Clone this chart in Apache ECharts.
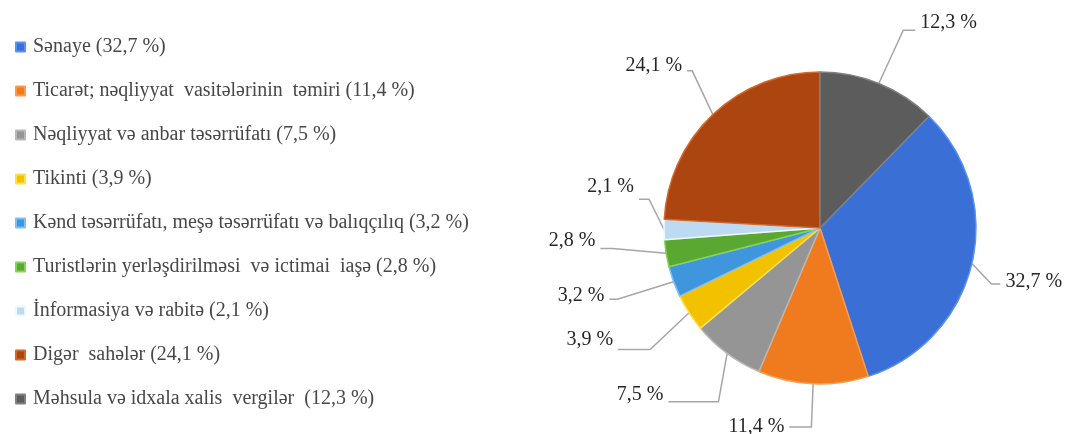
<!DOCTYPE html>
<html>
<head>
<meta charset="utf-8">
<script src="https://cdn.jsdelivr.net/npm/echarts@6/dist/echarts.min.js"></script>
<style>
    html, body { margin: 0; padding: 0; background: #fff; }
    #main { width: 1066px; height: 434px; }
</style>
</head>
<body>
<div id="main"></div>
<script>
// legend order (top to bottom)
var sectors = [
    'Sənaye',
    'Ticarət; nəqliyyat  vasitələrinin  təmiri',
    'Nəqliyyat və anbar təsərrüfatı',
    'Tikinti',
    'Kənd təsərrüfatı, meşə təsərrüfatı və balıqçılıq',
    'Turistlərin yerləşdirilməsi  və ictimai  iaşə',
    'İnformasiya və rabitə',
    'Digər  sahələr',
    'Məhsula və idxala xalis  vergilər '
];
var shares = [32.7, 11.4, 7.5, 3.9, 3.2, 2.8, 2.1, 24.1, 12.3];
var colors = ['#3a6fd6', '#f07b1e', '#959595', '#f2c200', '#3f96dc', '#5aa832', '#bcdaf2', '#ad4510', '#5c5c5c'];
var edgeColors = ['#5a90f0', '#ff9a4a', '#b8b8b8', '#ffe04a', '#7cc0f5', '#86d25a', '#eef8ff', '#cc6a30', '#808080'];

// leader line lengths per slice: [radial, horizontal]
var lineLen = [[20, 9], [40, 22], [55, 50], [65, 32], [70, 8], [60, 12], [20, 10], [30, 5], [65, 12]];
// vertical nudge of the label text and of the leader line elbow
var labelDy = [14, 4, -2, -8, -10, -22, -42, -27, -1];
var elbowDy = [16, 4, 5, 2, -6, -14, -30, -22, 7];

var serif = "'Liberation Serif', 'Times New Roman', serif";

function fmt(v) {
    return v.toFixed(1).replace('.', ',') + ' %';
}

var chart = echarts.init(document.getElementById('main'));

// last slice (Məhsula) sits between 12 o'clock and the start of Sənaye
var total = shares.reduce(function (a, b) { return a + b; }, 0);
var start = 90 - shares[shares.length - 1] / total * 360;

var option = {
    color: colors,
    legend: {
        orient: 'vertical',
        left: 10,
        top: 32,
        itemWidth: 9,
        itemHeight: 9,
        itemGap: 24,
        icon: 'rect',
        data: sectors,
        formatter: function (name) {
            var i = sectors.indexOf(name);
            return name + ' (' + fmt(shares[i]) + ')';
        },
        textStyle: {
            fontFamily: serif,
            fontSize: 20,
            color: '#484848',
            padding: [0, 0, 0, 3]
        }
    },
    series: [{
        name: 'ÜDM',
        type: 'pie',
        center: ['820px', '228px'],
        radius: 156,
        startAngle: start,
        clockwise: true,
        avoidLabelOverlap: true,
        itemStyle: {
            borderWidth: 1.5
        },
        label: {
            show: true,
            position: 'outside',
            overflow: 'none',
            formatter: function (p) {
                return fmt(p.value);
            },
            fontFamily: serif,
            fontSize: 20,
            color: '#262626'
        },
        labelLine: {
            show: true,
            lineStyle: {
                color: '#a6a6a6',
                width: 1.5
            }
        },
        labelLayout: function (p) {
            var i = p.dataIndex;
            var res = { dy: labelDy[i] };
            var pts = p.labelLinePoints;
            if (pts && pts.length === 3) {
                res.labelLinePoints = [
                    [pts[0][0], pts[0][1]],
                    [pts[1][0], pts[1][1] + elbowDy[i]],
                    [pts[2][0], pts[2][1] + elbowDy[i]]
                ];
            }
            return res;
        },
        data: sectors.map(function (s, i) {
            return {
                name: s,
                value: shares[i],
                itemStyle: { borderColor: edgeColors[i] },
                labelLine: { length: lineLen[i][0], length2: lineLen[i][1] }
            };
        })
    }]
};

chart.setOption(option);
</script>
</body>
</html>
